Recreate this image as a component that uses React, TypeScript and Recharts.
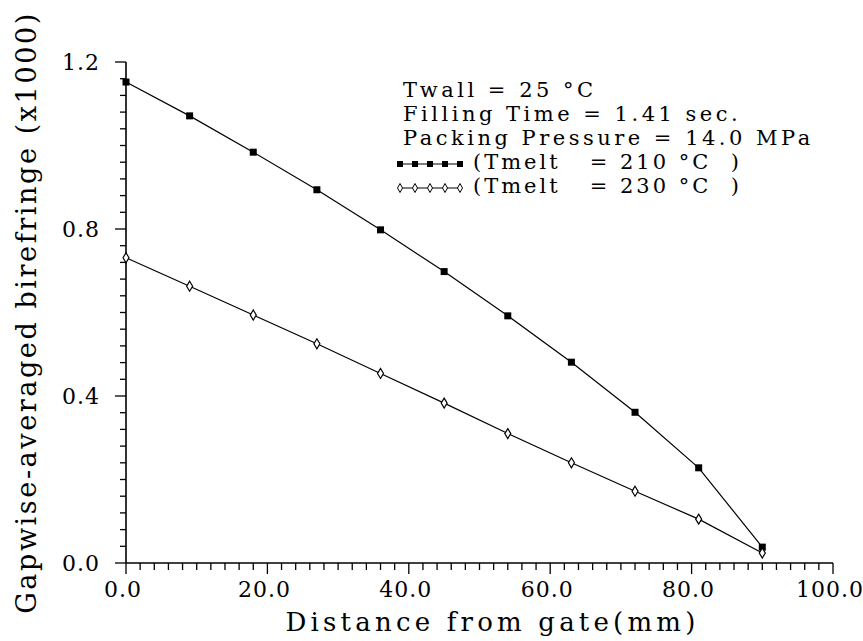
import { LineChart, Line, XAxis, YAxis } from 'recharts'

const distance = [0, 9, 18, 27, 36, 45, 54, 63, 72, 81, 90]
const tmelt210 = [1.152, 1.071, 0.984, 0.894, 0.798, 0.698, 0.592, 0.481, 0.361, 0.228, 0.038]
const tmelt230 = [0.731, 0.663, 0.594, 0.525, 0.454, 0.383, 0.31, 0.24, 0.172, 0.105, 0.024]

const xMajorTicks = [0, 20, 40, 60, 80, 100]
const yMajorTicks = [0, 0.4, 0.8, 1.2]
const xMinorStep = 2
const yMinorStep = 0.04

const infoLines = ['Twall = 25 °C', 'Filling Time = 1.41 sec.', 'Packing Pressure = 14.0 MPa']
const seriesLabels = ['(Tmelt   = 210 °C  )', '(Tmelt   = 230 °C  )']

const FONT = '"DejaVu Serif", "Liberation Serif", serif'

const data = distance.map((d, i) => ({ d, a: tmelt210[i], b: tmelt230[i] }))

function minorTicks(max: number, step: number): number[] {
  const out: number[] = []
  const n = Math.round(max / step)
  for (let k = 0; k <= n; k++) out.push(+(k * step).toFixed(4))
  return out
}

const xTicks = minorTicks(100, xMinorStep)
const yTicks = minorTicks(1.2, yMinorStep)

const isMajor = (v: number, majors: number[]) => majors.some((m) => Math.abs(m - v) < 1e-6)

function XTick(props: any) {
  const { x, y, payload } = props
  const major = isMajor(payload.value, xMajorTicks)
  return (
    <g>
      <line x1={x} x2={x} y1={y} y2={y + (major ? 11 : 7)} stroke="#000" strokeWidth={1.3} />
      {major && (
        <text x={x - 3} y={y + 34} textAnchor="middle" fontFamily={FONT} fontSize={22} letterSpacing={1} fill="#000">
          {payload.value.toFixed(1)}
        </text>
      )}
    </g>
  )
}

function YTick(props: any) {
  const { x, y, payload } = props
  const major = isMajor(payload.value, yMajorTicks)
  return (
    <g>
      <line x1={x - (major ? 11 : 6)} x2={x} y1={y} y2={y} stroke="#000" strokeWidth={1.3} />
      {major && (
        <text x={x - 26} y={y} dy="0.36em" textAnchor="end" fontFamily={FONT} fontSize={22} letterSpacing={1} fill="#000">
          {payload.value.toFixed(1)}
        </text>
      )}
    </g>
  )
}

function SquareDot(props: any) {
  const { cx, cy, index } = props
  return <rect key={'s' + index} x={cx - 3.5} y={cy - 3.5} width={7} height={7} fill="#000" />
}

function DiamondDot(props: any) {
  const { cx, cy, index } = props
  return (
    <path
      key={'d' + index}
      d={`M${cx},${cy - 5} L${cx + 3},${cy} L${cx},${cy + 5} L${cx - 3},${cy} Z`}
      fill="#fff"
      stroke="#000"
      strokeWidth={1.2}
    />
  )
}

function MarkerSample({ filled }: { filled: boolean }) {
  const xs = [4, 19, 34, 49, 64]
  return (
    <svg width={70} height={12} style={{ verticalAlign: 'middle', marginRight: 7 }}>
      <line x1={2} x2={66} y1={6} y2={6} stroke="#000" strokeWidth={1.2} />
      {xs.map((x) =>
        filled ? (
          <rect key={x} x={x - 3} y={3} width={6} height={6} fill="#000" />
        ) : (
          <path key={x} d={`M${x},1.5 L${x + 2.5},6 L${x},10.5 L${x - 2.5},6 Z`} fill="#fff" stroke="#000" strokeWidth={1} />
        )
      )}
    </svg>
  )
}

function InfoLegend() {
  return (
    <div
      style={{
        position: 'absolute',
        left: 403,
        top: 78,
        fontFamily: FONT,
        fontSize: 21,
        letterSpacing: 3.5,
        lineHeight: '24px',
        color: '#000',
        whiteSpace: 'pre',
      }}
    >
      {infoLines.map((t) => (
        <div key={t}>{t}</div>
      ))}
      {seriesLabels.map((t, i) => (
        <div key={t} style={{ marginLeft: -7, letterSpacing: 3 }}>
          <MarkerSample filled={i === 0} />
          {t}
        </div>
      ))}
    </div>
  )
}

export default function App() {
  return (
    <div style={{ position: 'relative', width: 863, height: 641, background: '#fff' }}>
      <style>{'body{margin:0}'}</style>
      <LineChart width={863} height={641} data={data} margin={{ top: 62, right: 30, left: 66, bottom: 38 }}>
        <XAxis
          dataKey="d"
          type="number"
          domain={[0, 100]}
          ticks={xTicks}
          interval={0}
          tick={<XTick />}
          tickSize={0}
          tickMargin={0}
          tickLine={false}
          axisLine={{ stroke: '#000', strokeWidth: 1.6 }}
          height={40}
          label={{
            value: 'Distance  from  gate(mm)',
            position: 'bottom',
            offset: 10,
            dx: 13,
            style: { fontFamily: FONT, fontSize: 26, fill: '#000', letterSpacing: 4.2, whiteSpace: 'pre' },
          }}
        />
        <XAxis xAxisId="top" orientation="top" type="number" domain={[0, 100]} tick={false} tickLine={false} height={0} axisLine={{ stroke: '#000', strokeWidth: 1.6 }} />
        <YAxis
          type="number"
          domain={[0, 1.2]}
          ticks={yTicks}
          interval={0}
          tick={<YTick />}
          tickSize={0}
          tickMargin={0}
          tickLine={false}
          width={60}
          axisLine={{ stroke: '#000', strokeWidth: 1.6 }}
          label={{
            value: 'Gapwise-averaged  birefringe  (x1000)',
            angle: -90,
            position: 'insideLeft',
            offset: -40,
            style: { fontFamily: FONT, fontSize: 27, fill: '#000', letterSpacing: 2.6, textAnchor: 'middle', whiteSpace: 'pre' },
          }}
        />
        <YAxis yAxisId="right" orientation="right" type="number" domain={[0, 1.2]} tick={false} tickLine={false} width={0} axisLine={{ stroke: '#000', strokeWidth: 1.6 }} />
        <Line dataKey="a" stroke="#000" strokeWidth={1.2} dot={SquareDot} activeDot={false} isAnimationActive={false} />
        <Line dataKey="b" stroke="#000" strokeWidth={1.2} dot={DiamondDot} activeDot={false} isAnimationActive={false} />
      </LineChart>
      <InfoLegend />
    </div>
  )
}
